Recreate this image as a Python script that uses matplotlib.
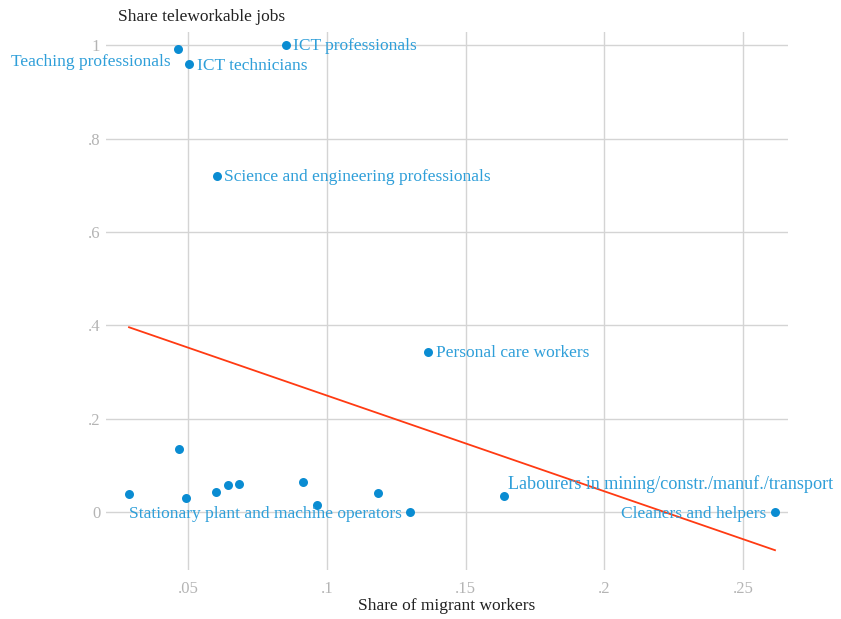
import numpy as np
import matplotlib.pyplot as plt

# share of migrant workers (x) and share of teleworkable jobs (y) by occupation
labels = ["Teaching professionals", "ICT technicians", "ICT professionals",
          "Science and engineering professionals", "Personal care workers",
          "Labourers in mining/constr./manuf./transport", "Cleaners and helpers",
          "Stationary plant and machine operators",
          "", "", "", "", "", "", "", "", ""]
migrant = [0.0462, 0.0501, 0.0852, 0.0602, 0.1364, 0.1639, 0.2615, 0.1299,
           0.0286, 0.0465, 0.0491, 0.0601, 0.0643, 0.0684, 0.0915, 0.0964, 0.1185]
telework = [0.991, 0.960, 1.000, 0.721, 0.343, 0.034, 0.000, 0.000,
            0.040, 0.136, 0.031, 0.043, 0.058, 0.061, 0.064, 0.016, 0.042]

x_ticks = [0.05, 0.1, 0.15, 0.2, 0.25]
x_ticklabels = [".05", ".1", ".15", ".2", ".25"]
y_ticks = [0, 0.2, 0.4, 0.6, 0.8, 1.0]
y_ticklabels = ["0", ".2", ".4", ".6", ".8", "1"]

# label placement: (dx, dy in pixels, horizontal alignment)
placement = {
    "Teaching professionals": (-7, -13, "right"),
    "ICT technicians": (8, -2, "left"),
    "ICT professionals": (7, -1, "left"),
    "Science and engineering professionals": (7, -1, "left"),
    "Personal care workers": (8, -1, "left"),
    "Labourers in mining/constr./manuf./transport": (4, 12, "left"),
    "Cleaners and helpers": (-9, -2, "right"),
    "Stationary plant and machine operators": (-8, -2, "right"),
}

plt.rcParams['font.family'] = ['Liberation Serif', 'DejaVu Serif']

point_col = '#0a8cd2'
label_col = '#2f9fd9'
grid_col = '#d4d4d4'
fs = 12.5

fig = plt.figure(figsize=(8.41, 6.19), dpi=100)
ax = fig.add_axes([0.1257, 0.0792, 0.8113, 0.8696])

ax.set_xlim(0.0202, 0.2662)
ax.set_ylim(-0.1236, 1.029)

for v in x_ticks:
    ax.axvline(v, color=grid_col, lw=1.0, zorder=0)
for v in y_ticks:
    ax.axhline(v, color=grid_col, lw=1.0, zorder=0)

ax.scatter(migrant, telework, s=42, color=point_col, zorder=3, linewidths=0)

# linear fit over the range of the data
slope, icpt = np.polyfit(migrant, telework, 1)
xs = np.array([min(migrant), max(migrant)])
ax.plot(xs, icpt + slope * xs, color='#ff3a12', lw=1.3, zorder=2)

for name, xv, yv in zip(labels, migrant, telework):
    if not name:
        continue
    dx, dy, ha = placement[name]
    fsz = fs + 0.6 if name.startswith("Labourers") else fs
    ax.annotate(name, (xv, yv), xytext=(dx, dy), textcoords='offset pixels',
                ha=ha, va='center', color=label_col, fontsize=fsz, zorder=4)

ax.set_xticks(x_ticks)
ax.set_xticklabels(x_ticklabels)
ax.set_yticks(y_ticks)
ax.set_yticklabels(y_ticklabels)
ax.tick_params(length=0, colors='#b4b4b4', labelsize=12)
ax.tick_params(axis='x', pad=8)
ax.tick_params(axis='y', pad=4)
for s in ax.spines.values():
    s.set_visible(False)

ax.set_xlabel("Share of migrant workers", fontsize=fs, color='#222222', labelpad=1)
fig.text(118 / 841, 1 - 17 / 619, "Share teleworkable jobs", fontsize=fs,
         color='#222222', va='center', ha='left')

fig.savefig("out.png", dpi=100, facecolor='white')
